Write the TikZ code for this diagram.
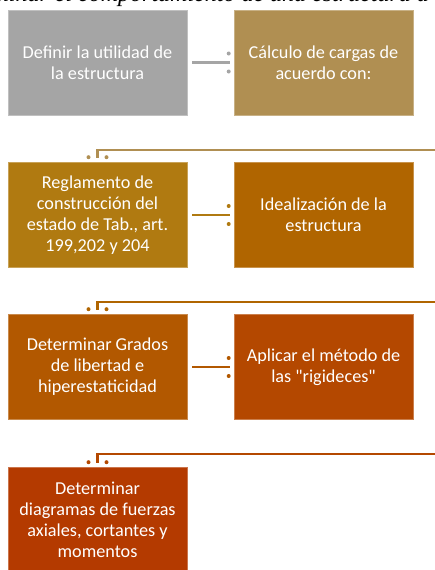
\documentclass[tikz,border=0pt]{standalone}
\usepackage{fontspec}
\setmainfont{Carlito}
\newfontfamily\titlefont{Liberation Serif}
\definecolor{cGray}{HTML}{A5A5A5}
\definecolor{cTan}{HTML}{B08F52}
\definecolor{cGold}{HTML}{B07A11}
\definecolor{cOchre}{HTML}{B06500}
\definecolor{cRust}{HTML}{B25800}
\definecolor{cBrick}{HTML}{B44800}
\definecolor{cRed}{HTML}{B43A00}
\tikzset{
  stepbox/.style={rectangle, minimum width=179pt, minimum height=105pt,
    inner sep=4pt, text=white, align=center, line width=0.6pt,
    font=\fontsize{18.2}{21}\selectfont},
  flowline/.style={line width=2.6pt},
  tipdot/.style={radius=2pt},
}
\begin{document}
\begin{tikzpicture}[x=1pt,y=-1pt]
\useasboundingbox (0,0) rectangle (434,570);
% cut-off heading
\node[anchor=base west, inner sep=0pt, font=\titlefont\itshape\fontsize{24}{28}\selectfont] (title) at (78,1.2) {\llap{Determinar el }comportamiento de una estructura a};
% boxes
\node[stepbox, fill=cGray, draw=cGray!70!white] (b1) at (97.5,62.5) {Definir la utilidad de\\la estructura};
\node[stepbox, fill=cTan, draw=cTan!70!white] (b2) at (323.5,62.5) {Cálculo de cargas de\\acuerdo con:};
\node[stepbox, fill=cGold, draw=cGold!70!white] (b3) at (97.5,215) {Reglamento de\\construcción del\\estado de Tab., art.\\199,202 y 204};
\node[stepbox, fill=cOchre, draw=cOchre!70!white] (b4) at (323.5,215) {Idealización de la\\estructura};
\node[stepbox, fill=cRust, draw=cRust!70!white] (b5) at (97.5,367) {Determinar Grados\\de libertad e\\hiperestaticidad};
\node[stepbox, fill=cBrick, draw=cBrick!70!white] (b6) at (323.5,367) {Aplicar el método de\\las \textquotedbl rigideces\textquotedbl};
\node[stepbox, fill=cRed, draw=cRed!70!white] (b7) at (97.5,520) {Determinar\\diagramas de fuerzas\\axiales, cortantes y\\momentos};
% horizontal connectors
\draw[flowline, cGray] ([xshift=5pt]b1.east) -- ([xshift=-4pt]b2.west);
\fill[cGray] ([xshift=-5pt,yshift=9pt]b2.west) circle[tipdot] ([xshift=-5pt,yshift=-9pt]b2.west) circle[tipdot];
\draw[flowline, cGold] ([xshift=5pt]b3.east) -- ([xshift=-4pt]b4.west);
\fill[cGold] ([xshift=-5pt,yshift=9pt]b4.west) circle[tipdot] ([xshift=-5pt,yshift=-9pt]b4.west) circle[tipdot];
\draw[flowline, cRust] ([xshift=5pt]b5.east) -- ([xshift=-4pt]b6.west);
\fill[cRust] ([xshift=-5pt,yshift=9pt]b6.west) circle[tipdot] ([xshift=-5pt,yshift=-9pt]b6.west) circle[tipdot];
% bent connectors
\coordinate (r1) at (445,150);
\coordinate (r2) at (445,302);
\coordinate (r3) at (445,454);
\draw[flowline, cTan] (r1) -| ([yshift=4pt]b3.north) ;
\fill[cTan] ([xshift=-9pt,yshift=5pt]b3.north) circle[tipdot] ([xshift=9pt,yshift=5pt]b3.north) circle[tipdot];
\draw[flowline, cOchre] (r2) -| ([yshift=4pt]b5.north);
\fill[cOchre] ([xshift=-9pt,yshift=5pt]b5.north) circle[tipdot] ([xshift=9pt,yshift=5pt]b5.north) circle[tipdot];
\draw[flowline, cBrick] (r3) -| ([yshift=4pt]b7.north);
\fill[cBrick] ([xshift=-9pt,yshift=5pt]b7.north) circle[tipdot] ([xshift=9pt,yshift=5pt]b7.north) circle[tipdot];
\end{tikzpicture}
\end{document}
